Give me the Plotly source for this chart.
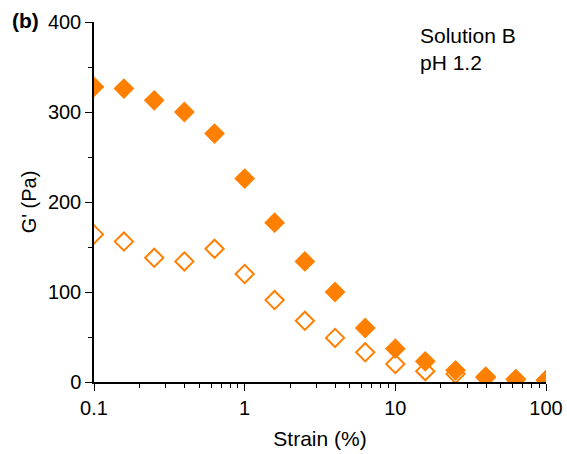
import plotly.graph_objects as go

strain = [0.1, 0.158, 0.251, 0.398, 0.631, 1.0, 1.58, 2.51, 3.98, 6.31, 10.0, 15.8, 25.1, 39.8, 63.1, 100.0]
g_filled = [328, 326, 313, 300, 276, 226, 177, 134, 100, 60, 37, 23, 13, 6, 3, 2]
g_open = [164, 156, 138, 134, 148, 120, 91, 68, 49, 33, 20, 12, 9, 5, 3, 2]

orange = "#FF8000"
font_family = "Liberation Sans, Arial, sans-serif"

fig = go.Figure()
fig.add_trace(go.Scatter(
    x=strain, y=g_open, mode="markers",
    marker=dict(symbol="diamond-open", size=14, color=orange, line=dict(width=2, color=orange)),
    showlegend=False))
fig.add_trace(go.Scatter(
    x=strain, y=g_filled, mode="markers",
    marker=dict(symbol="diamond", size=16, color=orange, line=dict(width=0)),
    showlegend=False))

minor_x = [m * 10 ** e for e in (-1, 0, 1) for m in range(2, 10)]

L, R, T, B = 94, 21, 22, 72
pw = 567 - L - R

fig.update_layout(
    width=567, height=454,
    margin=dict(l=L, r=R, t=T, b=B, autoexpand=False),
    paper_bgcolor="white", plot_bgcolor="white",
    font=dict(family=font_family, size=20, color="black"),
    xaxis=dict(
        type="log", range=[-1, 2], automargin=False,
        tickvals=[0.1, 1, 10, 100], ticktext=["0.1", "1", "10", "100"],
        ticks="outside", ticklen=7, tickwidth=1, tickcolor="black",
        tickfont=dict(size=20),
        showline=True, linecolor="black", linewidth=1.5,
        showgrid=False, zeroline=False,
        minor=dict(tickvals=minor_x, ticks="outside", ticklen=4, tickcolor="black", showgrid=False),
        title=dict(text="Strain (%)", font=dict(size=21), standoff=14),
    ),
    yaxis=dict(
        range=[0, 400], automargin=False,
        tickvals=[0, 100, 200, 300, 400],
        ticks="outside", ticklen=7, tickwidth=1, tickcolor="black",
        tickfont=dict(size=20),
        showline=True, linecolor="black", linewidth=1.5,
        showgrid=False, zeroline=False,
        minor=dict(tickvals=[50, 150, 250, 350], ticks="outside", ticklen=4, tickcolor="black", showgrid=False),
        title=dict(text="G' (Pa)", font=dict(size=20), standoff=6),
    ),
    annotations=[
        dict(text="<b>(b)</b>", xref="paper", yref="paper", x=-L/pw, y=1.0,
             xanchor="left", yanchor="middle", showarrow=False, font=dict(size=21), yshift=2, xshift=10),
        dict(text="Solution B<br>pH 1.2", xref="paper", yref="paper", x=(418-L)/pw, y=1.0,
             xanchor="left", yanchor="top", align="left", showarrow=False, font=dict(size=21)),
    ],
)

fig.write_html("out.html")
